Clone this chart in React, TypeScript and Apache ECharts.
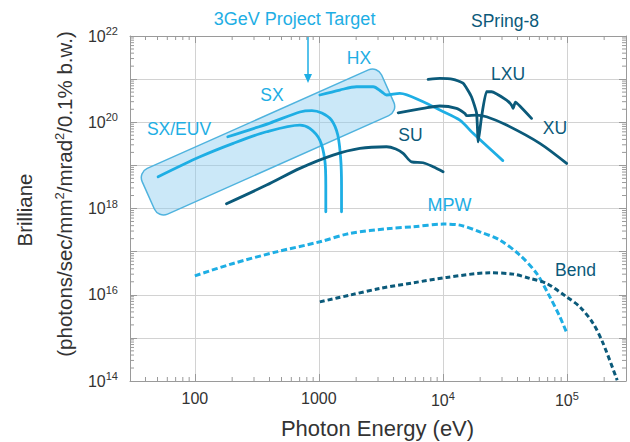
import React, { useEffect, useRef } from 'react';
import * as echarts from 'echarts';

const CYAN = '#1eaee4';
const DARK = '#0b5a7a';
const FONT = '"Liberation Sans", Arial, sans-serif';

// axis ranges (eV, brilliance)
const xRange = [30, 3e5];
const yRange = [1e14, 1e22];
const xLabelExps = [2, 3, 4, 5];
const yLabelExps = [14, 16, 18, 20, 22];

// Curves: [photon energy (eV), brilliance]
const sxEuv: number[][] = [[50.6, 5.44e18], [110, 1.58e19], [204, 3.24e19], [379, 6.02e19], [703, 8.61e19], [845, 7.22e19], [1019, 3.87e19], [1117, 1.33e19], [1138, 3.49e18], [1138, 8.38e17]];
const sx: number[][] = [[184.5, 4.61e19], [403, 9.58e19], [703, 1.73e20], [880, 1.86e20], [1057, 1.63e20], [1265, 1.12e20], [1422, 5.05e19], [1503, 1.33e19], [1524, 3.49e18], [1524, 8.38e17]];
const hx: number[][] = [[1019, 4.28e20], [1476, 5.59e20], [2014, 6.66e20], [2742, 6.66e20], [3206, 5.1e20], [3516, 4.28e20], [4498, 4.69e20], [6935, 2.99e20], [9461, 1.92e20], [13710, 1.12e20], [17540, 5.53e19], [30470, 1.29e19]];
const su: number[][] = [[180, 1.29e18], [379, 3.49e18], [703, 8.52e18], [1303, 1.73e19], [2142, 2.48e19], [3516, 2.7e19], [4179, 2.39e19], [4786, 1.9e19], [5598, 1.21e19], [6935, 1.15e19], [8357, 9.28e18], [10040, 7.11e18]];
const xu: number[][] = [[4365, 1.66e20], [6935, 2.1e20], [9461, 2.38e20], [12880, 2.1e20], [15030, 1.61e20], [15620, 1.42e20], [18720, 1.47e20], [22510, 1.34e20], [32650, 8.61e19], [60540, 3.24e19], [99600, 1.11e19]];
const lxu: number[][] = [[7608, 9.89e20], [9461, 1.04e21], [12100, 9.89e20], [14580, 8.0e20], [17010, 3.91e20], [18720, 1.61e20], [19290, 3.53e19], [20530, 1.34e20], [22510, 5.1e20], [24710, 5.1e20], [32650, 3.27e20], [35800, 2.51e20], [36890, 2.1e20], [38450, 2.94e20], [41790, 2.38e20], [51890, 1.23e20]];
const mpw: number[][] = [[100, 2.75e16], [204, 5.32e16], [456, 9.89e16], [1019, 1.69e17], [1778, 2.64e17], [3741, 3.45e17], [5754, 3.76e17], [10040, 4.35e17], [13710, 4.12e17], [19870, 2.88e17], [28840, 1.85e17], [41790, 8.3e16], [57040, 3.12e16], [72950, 8.94e15], [87890, 3.07e15], [100400, 1.26e15]];
const bend: number[][] = [[1019, 6.84e15], [1778, 9.79e15], [3105, 1.4e16], [5754, 1.89e16], [10720, 2.52e16], [23930, 3.22e16], [36890, 3.01e16], [50350, 2.39e16], [68550, 1.83e16], [99600, 8.94e15], [127400, 5.24e15], [163000, 2.16e15], [196300, 7.41e14], [254700, 1.04e14]];

function minorTicks(lo: number, hi: number): number[] {
  const out: number[] = [];
  for (let e = Math.floor(Math.log10(lo)); e <= Math.ceil(Math.log10(hi)); e++) {
    for (let m = 2; m <= 9; m++) {
      const v = m * Math.pow(10, e);
      if (v > lo * 1.0001 && v < hi * 0.9999) out.push(v);
    }
  }
  return out;
}

function isPow10(v: number) {
  const l = Math.log10(v);
  return Math.abs(l - Math.round(l)) < 1e-6;
}

const AXIS_GRAY = '#9a9a9a';

export default function App() {
  const ref = useRef<HTMLDivElement>(null);
  useEffect(() => {
    if (!ref.current) return;
    const chart = echarts.init(ref.current, null, { renderer: 'svg' });
    const rich = {
      b: { fontSize: 16, color: '#333', fontFamily: FONT },
      s: { fontSize: 11, color: '#333', fontFamily: FONT, padding: [0, 0, 10, 0] },
    };
    const baseAxis = {
      type: 'log' as const,
      logBase: 10,
      axisLine: { show: true, lineStyle: { color: AXIS_GRAY, width: 1 } },
      axisTick: { show: true, inside: true, length: 7, lineStyle: { color: AXIS_GRAY } },
    };
    const xMinor = minorTicks(xRange[0], xRange[1]).map((v) => [v, 1e18]);
    const yMinor = minorTicks(yRange[0], yRange[1]).map((v) => [1000, v]);

    const solid = (name: string, data: number[][], color: string, smooth = 0.3) => ({
      type: 'line', name, data, showSymbol: false, symbol: 'none', smooth, z: 3,
      lineStyle: { color, width: 2.8, cap: 'round', join: 'round' },
    });
    const dashed = (name: string, data: number[][], color: string, dash: number[]) => ({
      type: 'line', name, data, showSymbol: false, symbol: 'none', smooth: 0.3, z: 3,
      lineStyle: { color, width: 3, type: dash },
    });

    const text = (t: string, x: number, y: number, color: string, size = 17.5, rotation = 0) => ({
      type: 'text', x, y, rotation, z: 10, silent: true,
      style: { text: t, fill: color, fontSize: size, fontFamily: FONT, align: 'center', verticalAlign: 'middle', textAlign: 'center', textVerticalAlign: 'middle' },
    });

    chart.setOption({
      animation: false,
      backgroundColor: '#fff',
      textStyle: { fontFamily: FONT },
      grid: { left: 130, right: 4, top: 36, bottom: 61, containLabel: false },
      xAxis: [
        {
          ...baseAxis, position: 'bottom', min: xRange[0], max: xRange[1],
          splitLine: { show: true, lineStyle: { color: '#d2d2d2', width: 1 } },
          axisLabel: {
            margin: 9, showMinLabel: false, showMaxLabel: false, rich,
            formatter: (v: number) => {
              if (!isPow10(v)) return '';
              const e = Math.round(Math.log10(v));
              if (!xLabelExps.includes(e)) return '';
              if (e <= 3) return `{b|${Math.pow(10, e)}}`;
              return `{b|10}{s|${e}}`;
            },
          },
        },
        { ...baseAxis, position: 'top', min: xRange[0], max: xRange[1], splitLine: { show: false }, axisLabel: { show: false } },
      ],
      yAxis: [
        {
          ...baseAxis, position: 'left', min: yRange[0], max: yRange[1],
          splitLine: { show: true, lineStyle: { color: '#d2d2d2', width: 1 } },
          axisLabel: {
            margin: 12, rich,
            formatter: (v: number) => {
              if (!isPow10(v)) return '';
              const e = Math.round(Math.log10(v));
              if (!yLabelExps.includes(e)) return '';
              return `{b|10}{s|${e}}`;
            },
          },
        },
        { ...baseAxis, position: 'right', min: yRange[0], max: yRange[1], splitLine: { show: false }, axisLabel: { show: false } },
      ],
      graphic: {
        elements: [
          {
            type: 'rect', x: 268, y: 142, rotation: (24 * Math.PI) / 180, z: 1, silent: true,
            shape: { x: -131, y: -25, width: 262, height: 50, r: 10 },
            style: { fill: 'rgba(140,205,240,0.45)', stroke: '#4fb3de', lineWidth: 1.5 },
          },
          { type: 'line', z: 10, shape: { x1: 308, y1: 37, x2: 308, y2: 76 }, style: { stroke: CYAN, lineWidth: 1.5 } },
          { type: 'polygon', z: 10, shape: { points: [[304, 74], [312, 74], [308, 83]] }, style: { fill: CYAN } },
          text('3GeV Project Target', 294.5, 18.5, CYAN, 18),
          text('SPring-8', 505, 20.5, DARK, 17.5),
          text('SX/EUV', 179, 129, CYAN),
          text('SX', 272, 95, CYAN),
          text('HX', 359, 57.5, CYAN),
          text('SU', 410.5, 134.5, DARK),
          text('LXU', 508, 74, DARK),
          text('XU', 555, 127.5, DARK),
          text('MPW', 449.5, 205, CYAN, 18),
          text('Bend', 575.5, 269.5, DARK),
          text('Brilliane', 24, 210, '#333', 20.5, Math.PI / 2),
          {
            type: 'text', x: 64, y: 194, rotation: Math.PI / 2, z: 10, silent: true,
            style: {
              text: '(photons/sec/mm{s|2}/mrad{s|2}/0.1% b.w.)', fill: '#333', fontSize: 20.5, fontFamily: FONT,
              align: 'center', verticalAlign: 'middle', textAlign: 'center', textVerticalAlign: 'middle',
              rich: { s: { fontSize: 13, fill: '#333', fontFamily: FONT, padding: [0, 0, 10, 0] } },
            },
          },
          text('Photon Energy (eV)', 377.5, 428, '#333', 22),
        ],
      },
      series: [
        {
          type: 'custom', name: 'xMinor', data: xMinor, silent: true, z: 2, clip: false,
          renderItem: (_p: any, api: any) => {
            const v = api.value(0);
            const b = api.coord([v, yRange[0]]);
            const t = api.coord([v, yRange[1]]);
            return {
              type: 'group', children: [
                { type: 'line', shape: { x1: b[0], y1: b[1], x2: b[0], y2: b[1] - 4 }, style: { stroke: AXIS_GRAY, lineWidth: 1 } },
                { type: 'line', shape: { x1: t[0], y1: t[1], x2: t[0], y2: t[1] + 4 }, style: { stroke: AXIS_GRAY, lineWidth: 1 } },
              ],
            };
          },
        },
        {
          type: 'custom', name: 'yMinor', data: yMinor, silent: true, z: 2, clip: false,
          renderItem: (_p: any, api: any) => {
            const v = api.value(1);
            const l = api.coord([xRange[0], v]);
            const r = api.coord([xRange[1], v]);
            return {
              type: 'group', children: [
                { type: 'line', shape: { x1: l[0], y1: l[1], x2: l[0] + 4, y2: l[1] }, style: { stroke: AXIS_GRAY, lineWidth: 1 } },
                { type: 'line', shape: { x1: r[0], y1: r[1], x2: r[0] - 4, y2: r[1] }, style: { stroke: AXIS_GRAY, lineWidth: 1 } },
              ],
            };
          },
        },
        solid('SX/EUV', sxEuv, CYAN),
        solid('SX', sx, CYAN),
        solid('HX', hx, CYAN),
        solid('SU', su, DARK),
        solid('XU', xu, DARK),
        solid('LXU', lxu, DARK, 0.15),
        dashed('MPW', mpw, CYAN, [6, 3]),
        dashed('Bend', bend, DARK, [5, 3]),
      ],
    });
    return () => chart.dispose();
  }, []);
  return <div ref={ref} style={{ position: 'absolute', left: 0, top: 0, width: 630, height: 442, background: '#fff' }} />;
}
